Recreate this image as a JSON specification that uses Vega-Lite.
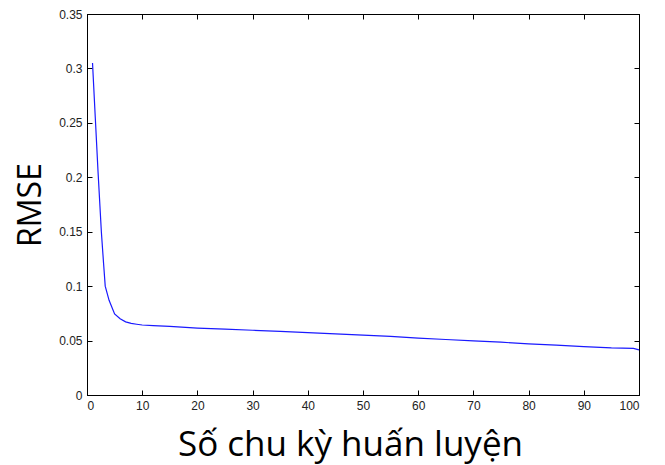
{
  "$schema": "https://vega.github.io/schema/vega-lite/v6.json",
  "autosize": "none",
  "width": 552,
  "height": 381,
  "padding": {"left": 87, "top": 14, "right": 26, "bottom": 70},
  "background": "white",
  "config": {
    "view": {"stroke": "black", "strokeWidth": 1},
    "axis": {
      "grid": false,
      "domainColor": "black",
      "tickColor": "black",
      "labelFont": "Liberation Sans",
      "labelFontSize": 12,
      "labelColor": "#222",
      "titleFont": "Open Sans",
      "titleFontWeight": "normal",
      "titleColor": "black"
    }
  },
  "data": {
    "values": [
      {"epoch": 1, "rmse": 0.305},
      {"epoch": 1.5, "rmse": 0.255},
      {"epoch": 2, "rmse": 0.205},
      {"epoch": 2.6, "rmse": 0.15},
      {"epoch": 3, "rmse": 0.121},
      {"epoch": 3.3, "rmse": 0.1},
      {"epoch": 4, "rmse": 0.087},
      {"epoch": 5, "rmse": 0.0745},
      {"epoch": 6, "rmse": 0.0700},
      {"epoch": 7, "rmse": 0.0672},
      {"epoch": 8, "rmse": 0.0658},
      {"epoch": 9, "rmse": 0.0650},
      {"epoch": 10, "rmse": 0.0643},
      {"epoch": 12, "rmse": 0.0638},
      {"epoch": 15, "rmse": 0.0630},
      {"epoch": 20, "rmse": 0.0615},
      {"epoch": 25, "rmse": 0.0605},
      {"epoch": 30, "rmse": 0.0595},
      {"epoch": 35, "rmse": 0.0585},
      {"epoch": 40, "rmse": 0.0573},
      {"epoch": 45, "rmse": 0.0562},
      {"epoch": 50, "rmse": 0.0550},
      {"epoch": 55, "rmse": 0.0538},
      {"epoch": 60, "rmse": 0.0522},
      {"epoch": 65, "rmse": 0.0510},
      {"epoch": 70, "rmse": 0.0498},
      {"epoch": 75, "rmse": 0.0485},
      {"epoch": 80, "rmse": 0.0469},
      {"epoch": 85, "rmse": 0.0458},
      {"epoch": 90, "rmse": 0.0444},
      {"epoch": 95, "rmse": 0.0432},
      {"epoch": 99, "rmse": 0.0428},
      {"epoch": 100, "rmse": 0.0414}
    ]
  },
  "layer": [
    {
      "mark": {"type": "line", "color": "#1a1aff", "strokeWidth": 1.2},
      "encoding": {
        "x": {
          "field": "epoch", "type": "quantitative",
          "scale": {"domain": [0, 100], "nice": false, "zero": false},
          "axis": {"values": [0,10,20,30,40,50,60,70,80,90,100], "tickSize": -5, "labelPadding": 10, "title": "Số chu kỳ huấn luyện", "titleFontSize": 35, "titlePadding": 16, "titleX": 263}
        },
        "y": {
          "field": "rmse", "type": "quantitative",
          "scale": {"domain": [0, 0.35], "nice": false},
          "axis": {"values": [0,0.05,0.1,0.15,0.2,0.25,0.3,0.35], "format": "~g", "tickSize": -5, "labelPadding": 10, "title": "RMSE", "titleFontSize": 32, "titlePadding": 11}
        }
      }
    },
    {
      "mark": {"type": "line", "opacity": 0},
      "encoding": {
        "x": {
          "field": "epoch", "type": "quantitative",
          "scale": {"domain": [0, 100], "nice": false, "zero": false},
          "axis": {"orient": "top", "values": [0,10,20,30,40,50,60,70,80,90,100], "tickSize": -5, "labels": false, "title": null}
        },
        "y": {
          "field": "rmse", "type": "quantitative",
          "scale": {"domain": [0, 0.35], "nice": false},
          "axis": {"orient": "right", "values": [0,0.05,0.1,0.15,0.2,0.25,0.3,0.35], "tickSize": -5, "labels": false, "title": null}
        }
      }
    }
  ],
  "resolve": {"axis": {"x": "independent", "y": "independent"}}
}
